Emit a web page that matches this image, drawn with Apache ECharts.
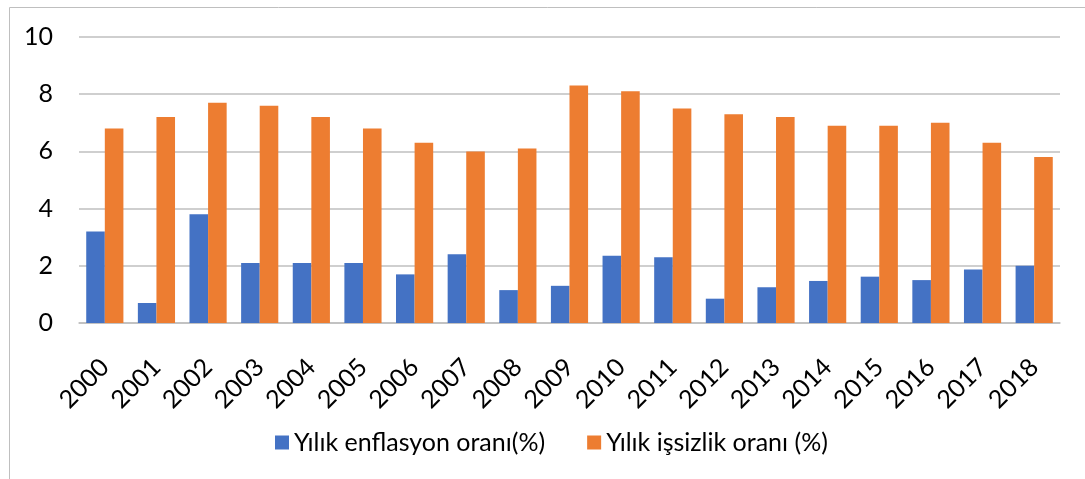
<!DOCTYPE html>
<html>
<head>
<meta charset="utf-8">
<script src="https://cdn.jsdelivr.net/npm/echarts@6/dist/echarts.min.js"></script>
<style>
  html, body { margin: 0; padding: 0; background: #fff; }
  #chart { width: 1085px; height: 479px; }
</style>
</head>
<body>
<div id="chart"></div>
<script>
var years = ['2000', '2001', '2002', '2003', '2004', '2005', '2006', '2007', '2008', '2009',
    '2010', '2011', '2012', '2013', '2014', '2015', '2016', '2017', '2018'];
var enflasyon = [3.2, 0.7, 3.8, 2.1, 2.1, 2.1, 1.7, 2.4, 1.15, 1.3,
    2.35, 2.3, 0.85, 1.25, 1.47, 1.62, 1.5, 1.87, 2.0];
var issizlik = [6.8, 7.2, 7.7, 7.6, 7.2, 6.8, 6.3, 6.0, 6.1, 8.3,
    8.1, 7.5, 7.3, 7.2, 6.9, 6.9, 7.0, 6.3, 5.8];
var yTicks = [0, 2, 4, 6, 8, 10];

var myChart = echarts.init(document.getElementById('chart'));

var fontFam = 'Lato, "Open Sans", sans-serif';

option = {
    animation: false,
    textStyle: {fontFamily: fontFam},
    graphic: [{
        type: 'rect',
        shape: {x: 9.5, y: 7.5, width: 1100, height: 500},
        style: {fill: 'none', stroke: '#bfbfbf', lineWidth: 1}
    }],
    grid: {left: 79, right: 25, top: 37, bottom: 156},
    legend: {
        left: 270,
        bottom: 19,
        itemWidth: 14,
        itemHeight: 14,
        itemGap: 42,
        icon: 'rect',
        textStyle: {fontSize: 25, color: '#000', fontFamily: fontFam}
    },
    xAxis: {
        type: 'category',
        data: years,
        axisTick: {show: false},
        axisLine: {lineStyle: {color: '#bfbfbf', width: 1.5}},
        axisLabel: {rotate: 45, fontSize: 25, color: '#000', margin: 40, interval: 0}
    },
    yAxis: {
        type: 'value',
        min: yTicks[0],
        max: yTicks[yTicks.length - 1],
        interval: 2,
        axisLine: {show: false},
        axisTick: {show: false},
        axisLabel: {fontSize: 25, color: '#000', margin: 26},
        splitLine: {lineStyle: {color: '#bfbfbf', width: 1.5}}
    },
    series: [
        {
            name: 'Yılık enflasyon oranı(%)',
            type: 'bar',
            data: enflasyon,
            barGap: '0%',
            barCategoryGap: '28%',
            itemStyle: {color: '#4472c4'}
        },
        {
            name: 'Yılık işsizlik oranı (%)',
            type: 'bar',
            data: issizlik,
            itemStyle: {color: '#ed7d31'}
        }
    ]
};

myChart.setOption(option);
</script>
</body>
</html>
